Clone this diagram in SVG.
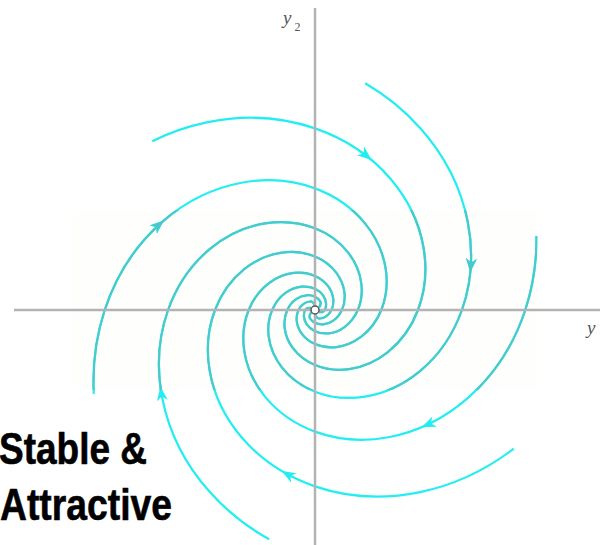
<svg xmlns="http://www.w3.org/2000/svg" xmlns:xlink="http://www.w3.org/1999/xlink" width="600" height="545" viewBox="0 0 600 545">
<style>
.axis{stroke:#b3b3b3;stroke-width:2.5;fill:none}
.lbl{font-family:"Liberation Serif",serif;font-style:italic;fill:#555}
.sub{font-family:"Liberation Serif",serif;fill:#555}
.big{font-family:"Liberation Sans",Arial,sans-serif;font-weight:bold;font-size:45px;fill:#000;stroke:#000;stroke-width:0.6}
</style>
<defs>
<path id="sp" fill="none" d="M-215.70 -124.54 C-182.02 -155.29 -142.97 -174.23 -105.14 -182.10 C-67.31 -189.97 -30.78 -186.89 0 -176.35 C30.78 -165.81 55.81 -147.94 73.47 -127.24 C91.13 -106.54 101.46 -83.09 105.32 -60.81 C109.18 -38.53 106.63 -17.45 100 0 C93.37 17.45 82.72 31.30 70.74 40.85 C58.76 50.40 45.51 55.68 33.15 57.41 C20.79 59.14 9.33 57.35 0 53.45 C-9.33 49.55 -16.54 43.59 -21.40 37.07 C-26.26 30.55 -28.81 23.49 -29.50 17.03 C-30.19 10.57 -29.06 4.70 -26.92 0 C-24.78 -4.70 -21.65 -8.24 -18.31 -10.57 C-14.97 -12.90 -11.43 -14.04 -8.25 -14.28 C-5.07 -14.52 -2.23 -13.88 0 -12.78 C2.23 -11.68 3.87 -10.13 4.92 -8.52 C5.97 -6.91 5.6 -4.8 3.9 -2.5"/>
<path id="ah" stroke="none" d="M2 0 L-12 -5.5 L-8 0 L-12 5.5 Z"/>
<clipPath id="inset"><rect x="73" y="210" width="464" height="180"/></clipPath>
<g id="arms" stroke-width="2.2">
<g id="armA" transform="translate(315 310) scale(1.03)">
<use xlink:href="#sp" stroke-dasharray="0 70 5000"/>
<use xlink:href="#ah" transform="translate(53.46 -146.88) rotate(39.3)"/>
</g>
<g id="armB" transform="translate(315 310) rotate(60)">
<use xlink:href="#sp" stroke-dasharray="0 55 5000"/>
<use xlink:href="#ah" transform="translate(43.40 -154.42) rotate(34.9)"/>
</g>
<g id="armC" transform="translate(315 310) rotate(120)">
<use xlink:href="#sp" stroke-dasharray="0 51 5000"/>
<use xlink:href="#ah" transform="translate(46.55 -152.24) rotate(36.3)"/>
</g>
<g id="armD" transform="translate(315 310) rotate(180)">
<use xlink:href="#sp" stroke-dasharray="0 22 5000"/>
<use xlink:href="#ah" transform="translate(31.50 -162.07) rotate(30.1)"/>
</g>
<g id="armE" transform="translate(315 310) rotate(240)">
<use xlink:href="#sp" stroke-dasharray="0 50 5000"/>
<use xlink:href="#ah" transform="translate(9.06 -172.96) rotate(22.0)"/>
</g>
<g id="armF" transform="translate(315 310) rotate(300)">
<use xlink:href="#sp" stroke-dasharray="0 41 5000"/>
<use xlink:href="#ah" transform="translate(0 -176.35) rotate(18.9)"/>
</g>
</g>
</defs>
<rect width="600" height="545" fill="#fff"/>
<rect x="73" y="210" width="464" height="180" fill="#fefefc"/>
<g id="trajectories">
<use xlink:href="#arms" stroke="#22eef2" fill="#22eef2"/>
<use xlink:href="#arms" stroke="#48cacc" fill="#48cacc" clip-path="url(#inset)"/>
</g>
<g id="axes">
<line class="axis" x1="14" y1="310" x2="600" y2="310"/>
<line class="axis" x1="315" y1="8" x2="315" y2="545"/>
</g>
<g id="origin"><circle cx="315" cy="310" r="4" fill="#fff" stroke="#555" stroke-width="1.5"/></g>
<g id="labels">
<text class="lbl" x="283" y="24" font-size="19">y</text>
<text class="sub" x="294.5" y="31" font-size="12">2</text>
<text class="lbl" x="587" y="334" font-size="19">y</text>
<text class="big" x="-1" y="464" textLength="148" lengthAdjust="spacingAndGlyphs">Stable &amp;</text>
<text class="big" x="0" y="520" textLength="172" lengthAdjust="spacingAndGlyphs">Attractive</text>
</g>
</svg>
